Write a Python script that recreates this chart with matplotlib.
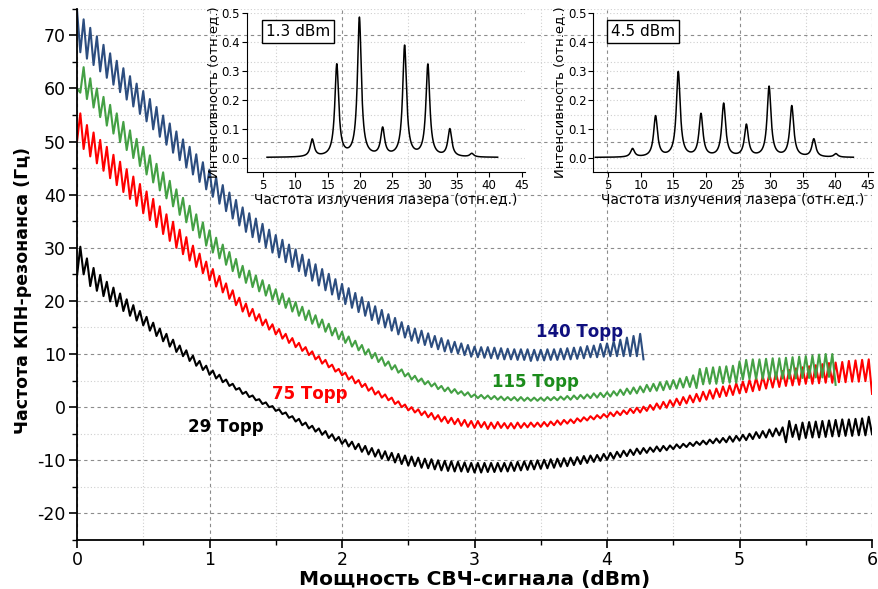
import numpy as np
import matplotlib.pyplot as plt
from matplotlib.ticker import MultipleLocator

plt.rcParams['axes.unicode_minus'] = False

# power step between neighbouring extrema of the oscillating curves (dBm)
step = 0.025

# extrema of each curve (Hz), one row = 0.25 dBm
torr140 = [
    74.8, 66.8, 73.0, 65.6, 71.4, 64.4, 69.8, 63.2, 68.2, 62.0,
    66.6, 60.7, 65.2, 59.3, 63.8, 57.9, 62.3, 56.6, 60.9, 55.2,
    59.5, 53.8, 58.0, 52.3, 56.5, 50.9, 54.9, 49.4, 53.4, 47.9,
    51.9, 46.5, 50.4, 45.1, 49.0, 43.8, 47.6, 42.4, 46.1, 41.0,
    44.7, 39.6, 43.3, 38.3, 41.8, 36.9, 40.4, 35.5, 39.0, 34.2,
    37.6, 33.0, 36.5, 32.0, 35.5, 31.1, 34.5, 30.1, 33.4, 29.1,
    32.4, 28.2, 31.5, 27.3, 30.6, 26.4, 29.7, 25.6, 28.7, 24.7,
    27.8, 23.8, 26.9, 22.9, 26.0, 22.0, 25.1, 21.2, 24.1, 20.3,
    23.2, 19.4, 22.4, 18.7, 21.5, 17.9, 20.7, 17.2, 19.8, 16.4,
    19.0, 15.7, 18.3, 15.0, 17.5, 14.4, 16.8, 13.7, 16.0, 13.1,
    15.3, 12.5, 14.8, 12.1, 14.4, 11.7, 13.9, 11.3, 13.4, 10.9,
    13.0, 10.5, 12.6, 10.3, 12.3, 10.1, 12.0, 9.8, 11.7, 9.5,
    11.4, 9.4, 11.3, 9.3, 11.3, 9.2, 11.2, 9.1, 11.1, 9.0,
    11.0, 9.0, 10.9, 8.9, 10.9, 8.9, 10.9, 8.7, 10.8, 8.8,
    10.8, 8.8, 10.9, 8.9, 10.9, 8.9, 11.0, 9.0, 11.1, 9.0,
    11.2, 9.1, 11.3, 9.2, 11.5, 9.4, 11.6, 9.4, 11.9, 9.5,
    12.0, 9.6, 12.4, 9.6, 12.7, 9.6, 13.1, 9.6, 13.4, 9.6,
    13.8, 9.0,
]

torr115 = [
    60.0, 59.2, 64.0, 58.0, 61.9, 56.4, 60.0, 54.6, 58.4, 53.0,
    56.9, 51.5, 55.3, 49.9, 53.7, 48.4, 52.1, 46.9, 50.5, 45.4,
    49.0, 43.8, 47.4, 42.3, 45.8, 40.8, 44.2, 39.3, 42.6, 37.8,
    41.0, 36.2, 39.4, 34.8, 37.9, 33.3, 36.3, 31.9, 34.8, 30.4,
    33.3, 29.1, 31.9, 28.0, 30.6, 26.8, 29.2, 25.6, 27.9, 24.4,
    26.6, 23.4, 25.7, 22.6, 24.8, 21.8, 23.9, 21.0, 23.0, 20.2,
    22.2, 19.4, 21.4, 18.7, 20.5, 18.0, 19.8, 17.2, 18.9, 16.4,
    18.2, 15.7, 17.3, 15.0, 16.5, 14.2, 15.7, 13.5, 14.9, 12.8,
    14.2, 12.1, 13.3, 11.4, 12.5, 10.7, 11.7, 9.9, 10.9, 9.2,
    10.2, 8.5, 9.4, 7.8, 8.6, 7.1, 7.9, 6.5, 7.1, 5.8,
    6.4, 5.2, 5.9, 4.8, 5.4, 4.3, 4.9, 3.9, 4.5, 3.4,
    4.0, 3.0, 3.7, 2.7, 3.4, 2.5, 3.0, 2.2, 2.8, 1.9,
    2.4, 1.7, 2.3, 1.6, 2.2, 1.5, 2.1, 1.4, 2.0, 1.3,
    1.9, 1.3, 1.9, 1.2, 1.9, 1.2, 1.8, 1.2, 1.8, 1.2,
    1.8, 1.2, 1.9, 1.3, 1.9, 1.3, 2.0, 1.4, 2.1, 1.4,
    2.2, 1.5, 2.3, 1.6, 2.4, 1.7, 2.6, 1.8, 2.7, 1.9,
    2.8, 2.0, 3.0, 2.2, 3.3, 2.3, 3.5, 2.5, 3.7, 2.6,
    3.9, 2.8, 4.2, 3.0, 4.4, 3.1, 4.7, 3.2, 4.9, 3.4,
    5.1, 3.5, 5.4, 3.7, 5.7, 3.8, 6.0, 3.6, 7.2, 4.3,
    7.4, 4.4, 7.5, 4.4, 7.6, 4.5, 7.7, 4.6, 7.8, 4.6,
    8.6, 5.2, 8.9, 5.3, 9.0, 5.3, 9.0, 5.3, 9.1, 5.3,
    9.2, 5.3, 9.2, 5.4, 9.3, 5.4, 9.4, 5.4, 9.5, 5.5,
    9.6, 5.5, 9.7, 5.6, 9.9, 5.6, 10.0, 5.7, 10.0, 4.2,
]

torr75 = [
    50.0, 55.3, 48.6, 53.1, 47.2, 51.7, 45.9, 50.3, 44.5, 49.0,
    43.1, 47.5, 41.8, 46.2, 40.5, 44.8, 39.2, 43.4, 37.9, 42.0,
    36.5, 40.6, 35.2, 39.2, 33.9, 37.8, 32.6, 36.3, 31.3, 34.9,
    30.0, 33.4, 28.8, 32.0, 27.6, 30.4, 26.4, 28.9, 25.2, 27.4,
    23.9, 26.0, 22.7, 24.7, 21.6, 23.3, 20.4, 22.0, 19.2, 20.6,
    18.0, 19.5, 17.1, 18.5, 16.3, 17.5, 15.4, 16.5, 14.6, 15.6,
    13.7, 14.7, 12.9, 13.8, 12.1, 13.0, 11.3, 12.1, 10.6, 11.3,
    9.8, 10.5, 9.0, 9.6, 8.2, 8.9, 7.5, 8.0, 6.7, 7.2,
    6.0, 6.5, 5.2, 5.8, 4.5, 5.1, 3.8, 4.4, 3.1, 3.7,
    2.4, 3.0, 1.8, 2.4, 1.3, 1.8, 0.6, 1.1, 0.0, 0.5,
    -0.6, 0.0, -1.0, -0.4, -1.5, -0.8, -1.9, -1.1, -2.3, -1.5,
    -2.7, -1.8, -3.0, -2.0, -3.2, -2.2, -3.5, -2.4, -3.7, -2.6,
    -3.9, -2.6, -3.8, -2.8, -4.1, -2.9, -4.0, -2.8, -3.9, -3.0,
    -4.0, -3.0, -4.0, -2.9, -3.9, -3.0, -3.8, -2.9, -3.7, -2.9,
    -3.7, -2.8, -3.6, -2.7, -3.4, -2.5, -3.3, -2.4, -3.1, -2.3,
    -3.0, -2.1, -2.7, -1.9, -2.5, -1.7, -2.3, -1.5, -2.1, -1.3,
    -1.9, -1.0, -1.7, -0.8, -1.5, -0.6, -1.3, -0.3, -1.1, -0.1,
    -1.0, 0.1, -0.7, 0.4, -0.5, 0.7, -0.3, 1.0, -0.1, 1.3,
    0.2, 1.6, 0.4, 1.9, 0.7, 2.2, 0.9, 2.5, 1.1, 2.9,
    1.4, 3.2, 1.6, 3.5, 1.9, 3.9, 2.1, 4.1, 2.3, 4.5,
    2.6, 4.8, 2.8, 5.1, 3.0, 5.5, 3.2, 5.8, 3.5, 6.2,
    3.7, 6.5, 3.8, 6.8, 4.0, 7.0, 4.1, 7.3, 4.2, 7.5,
    4.4, 7.7, 4.4, 7.9, 4.5, 8.1, 4.6, 8.3, 4.6, 8.4,
    4.7, 8.5, 4.7, 8.7, 4.8, 8.8, 4.8, 8.9, 4.9, 9.0,
    2.5,
]

torr29 = [
    24.7, 30.2, 25.0, 28.0, 22.8, 26.2, 21.9, 24.9, 20.9, 23.6,
    19.9, 22.5, 19.0, 21.4, 18.1, 20.3, 17.2, 19.2, 16.3, 18.1,
    15.4, 17.0, 14.4, 15.9, 13.4, 14.8, 12.4, 13.8, 11.4, 12.7,
    10.4, 11.6, 9.6, 10.7, 8.7, 9.7, 7.8, 8.7, 7.0, 7.8,
    6.1, 6.9, 5.4, 6.1, 4.7, 5.2, 4.0, 4.4, 3.3, 3.6,
    2.5, 2.9, 1.9, 2.2, 1.3, 1.5, 0.6, 0.9, 0.0, 0.2,
    -0.7, -0.4, -1.3, -1.0, -2.0, -1.7, -2.7, -2.2, -3.4, -2.9,
    -4.0, -3.5, -4.6, -4.0, -5.2, -4.5, -5.8, -5.1, -6.3, -5.6,
    -6.9, -6.1, -7.4, -6.5, -7.9, -6.9, -8.4, -7.3, -8.9, -7.7,
    -9.3, -8.0, -9.7, -8.3, -10.0, -8.6, -10.4, -8.8, -10.7, -9.1,
    -11.0, -9.3, -11.1, -9.5, -11.4, -9.7, -11.5, -9.8, -11.7, -10.0,
    -11.9, -10.1, -12.0, -10.2, -12.1, -10.3, -12.1, -10.4, -12.2, -10.5,
    -12.3, -10.5, -12.3, -10.5, -12.2, -10.5, -12.2, -10.5, -12.1, -10.5,
    -12.1, -10.4, -12.0, -10.3, -11.9, -10.2, -11.8, -10.1, -11.7, -10.0,
    -11.6, -9.9, -11.5, -9.8, -11.4, -9.7, -11.2, -9.6, -11.1, -9.5,
    -10.9, -9.4, -10.7, -9.2, -10.5, -9.1, -10.3, -9.0, -10.1, -8.8,
    -9.9, -8.6, -9.7, -8.4, -9.4, -8.2, -9.2, -8.0, -9.0, -7.8,
    -8.8, -7.7, -8.6, -7.6, -8.4, -7.4, -8.3, -7.3, -8.1, -7.2,
    -7.9, -7.0, -7.7, -6.9, -7.5, -6.7, -7.3, -6.5, -7.1, -6.3,
    -7.0, -6.1, -6.8, -5.9, -6.7, -5.8, -6.6, -5.5, -6.5, -5.4,
    -6.3, -5.2, -6.2, -5.0, -6.0, -4.7, -5.8, -4.5, -5.7, -4.2,
    -5.5, -4.0, -5.3, -3.8, -6.6, -2.6, -5.6, -3.3, -6.1, -2.9,
    -5.8, -2.8, -5.7, -2.7, -5.7, -2.6, -5.6, -2.5, -5.5, -2.4,
    -5.5, -2.3, -5.4, -2.3, -5.4, -2.2, -5.3, -2.1, -5.3, -1.8,
    -5.1,
]

curves = [
    (torr29, 'black'),
    (torr75, '#ff0000'),
    (torr115, '#44a044'),
    (torr140, '#2c4d7f'),
]

labels = ['29 Торр', '75 Торр', '115 Торр', '140 Торр']
label_x = [1.12, 1.76, 3.46, 3.79]
label_y = [-3.8, 2.4, 4.7, 14.2]
label_colors = ['black', '#ff0000', '#1c8c1c', '#10107f']

# laser spectra in the insets: line centres and heights
spec1_pos = [12.6, 16.4, 19.9, 23.5, 26.9, 30.5, 33.9, 37.3]
spec1_amp = [0.060, 0.318, 0.480, 0.095, 0.383, 0.318, 0.095, 0.012]
spec1_span = (5.6, 41.3)
spec2_pos = [8.75, 12.3, 15.8, 19.3, 22.8, 26.3, 29.8, 33.3, 36.7, 40.1]
spec2_amp = [0.029, 0.141, 0.294, 0.147, 0.184, 0.110, 0.243, 0.176, 0.062, 0.012]
spec2_span = (3.0, 42.8)
line_hwhm = 0.36


def style_grid(ax):
    ax.grid(which='major', color='#8c8c8c', linestyle=(0, (3, 3)), linewidth=0.8)
    ax.grid(which='minor', color='#cfcfcf', linestyle=(0, (1, 2)), linewidth=0.8)


fig = plt.figure(figsize=(8.79, 5.89), dpi=100)
ax = fig.add_axes([0.0876, 0.0832, 0.9045, 0.902])

for vals, col in curves:
    x = np.arange(len(vals)) * step
    ax.plot(x, vals, color=col, lw=1.5, solid_joinstyle='round')

for t, tx, ty, c in zip(labels, label_x, label_y, label_colors):
    ax.text(tx, ty, t, color=c, fontsize=12, fontweight='bold', ha='center', va='center')

ax.set_xlim(0, 6)
ax.set_ylim(-25, 75)
ax.xaxis.set_major_locator(MultipleLocator(1))
ax.xaxis.set_minor_locator(MultipleLocator(0.5))
ax.yaxis.set_major_locator(MultipleLocator(10))
ax.yaxis.set_minor_locator(MultipleLocator(5))
ax.set_yticks([-20, -10, 0, 10, 20, 30, 40, 50, 60, 70])
style_grid(ax)
ax.set_axisbelow(True)
for s in ['top', 'right']:
    ax.spines[s].set_visible(False)
for s in ['left', 'bottom']:
    ax.spines[s].set_linewidth(1.3)
ax.tick_params(which='major', direction='out', length=6, width=1.2, labelsize=12.5, pad=2)
ax.tick_params(which='minor', direction='out', length=3.5, width=1.0)
ax.set_xlabel('Мощность СВЧ-сигнала (dBm)', fontsize=14.5, fontweight='bold', labelpad=1)
ax.set_ylabel('Частота КПН-резонанса (Гц)', fontsize=12.5, fontweight='bold')
ax.yaxis.set_label_coords(-0.056, 0.47)

insets = [
    ([0.281, 0.708, 0.316, 0.270], spec1_pos, spec1_amp, spec1_span, '1.3 dBm', (2.5, 45.5)),
    ([0.675, 0.708, 0.318, 0.270], spec2_pos, spec2_amp, spec2_span, '4.5 dBm', (2.7, 45.8)),
]

for rect, pos, amp, span, tag, xl in insets:
    ia = fig.add_axes(rect)
    ia.patch.set_alpha(0)
    f = np.linspace(span[0], span[1], 3000)
    s = np.zeros_like(f)
    for p, a in zip(pos, amp):
        s += a * line_hwhm**2 / ((f - p)**2 + line_hwhm**2)
    ia.plot(f, s, color='black', lw=1.1)
    ia.set_xlim(*xl)
    ia.set_ylim(-0.05, 0.5)
    ia.set_xticks(range(5, 50, 5))
    ia.set_yticks([0.0, 0.1, 0.2, 0.3, 0.4, 0.5])
    ia.set_yticklabels(['0.0', '0.1', '0.2', '0.3', '0.4', '0.5'])
    ia.grid(axis='y', color='#cfcfcf', linestyle=(0, (1, 2)), linewidth=0.8)
    for sp in ['top', 'right']:
        ia.spines[sp].set_visible(False)
    ia.tick_params(direction='out', length=3.5, labelsize=8.5, pad=1.5)
    ia.set_xlabel('Частота излучения лазера (отн.ед.)', fontsize=10, labelpad=1)
    ia.set_ylabel('Интенсивность (отн.ед.)', fontsize=9.5, labelpad=1)
    ia.text(10.4, 0.435, tag, fontsize=11, ha='center', va='center',
            bbox=dict(boxstyle='square,pad=0.25', facecolor='white', edgecolor='black', lw=1.0))

fig.savefig('out.png', dpi=100)
